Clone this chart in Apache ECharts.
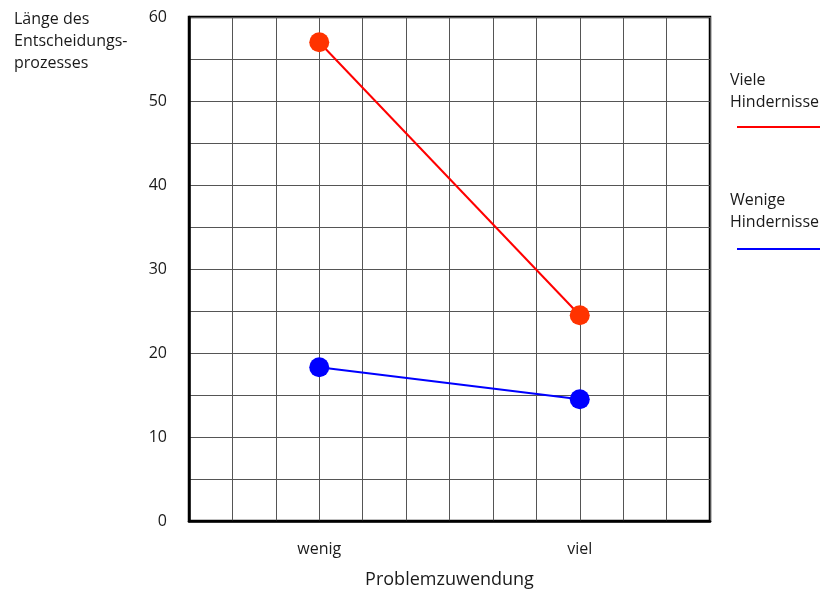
<!DOCTYPE html>
<html>
<head>
<meta charset="utf-8">
<script src="https://cdn.jsdelivr.net/npm/echarts@6/dist/echarts.min.js"></script>
<style>
  html, body { margin: 0; padding: 0; background: #fff; }
  #chart { width: 820px; height: 591px; }
</style>
</head>
<body>
<div id="chart"></div>
<script>
// Problem-attention levels and their positions on the 12-column grid
const categories = ['wenig', 'viel'];
const categoryPos = [3, 9];

// Length of the decision process per condition
const vieleHindernisse = [57, 24.5];
const wenigeHindernisse = [18.3, 14.5];

const yTicks = [0, 10, 20, 30, 40, 50, 60];

const FONT = '"Open Sans", "Noto Sans", sans-serif';

const chart = echarts.init(document.getElementById('chart'), null, { renderer: 'canvas', width: 820, height: 591 });

function pairs(values) {
  return values.map((v, i) => [categoryPos[i], v]);
}

chart.setOption({
  backgroundColor: '#fff',
  animation: false,
  grid: {
    left: 189, top: 17, width: 521, height: 504,
    outerBoundsMode: 'none', containLabel: false,
    show: true, borderColor: '#000', borderWidth: 2.5, backgroundColor: 'transparent'
  },
  xAxis: {
    type: 'value', min: 0, max: 12, interval: 1,
    name: 'Problemzuwendung', nameLocation: 'middle', nameGap: 50,
    nameTextStyle: { fontFamily: FONT, fontSize: 18, color: '#1a1a1a' },
    axisLine: { show: true, lineStyle: { color: '#000', width: 2.5 } },
    axisTick: { show: false },
    axisLabel: {
      margin: 20, fontFamily: FONT, fontSize: 16, color: '#1a1a1a',
      formatter: v => { const i = categoryPos.indexOf(v); return i >= 0 ? categories[i] : ''; }
    },
    splitLine: { show: true, lineStyle: { color: '#555', width: 1 } }
  },
  yAxis: {
    type: 'value', min: 0, max: 60, interval: 5,
    axisLine: { show: true, lineStyle: { color: '#000', width: 2.5 } },
    axisTick: { show: false },
    axisLabel: {
      margin: 22, fontFamily: FONT, fontSize: 16, color: '#1a1a1a',
      formatter: v => yTicks.includes(v) ? String(v) : ''
    },
    splitLine: { show: true, lineStyle: { color: '#555', width: 1 } }
  },
  series: [
    {
      name: 'Viele Hindernisse', type: 'line', data: pairs(vieleHindernisse),
      symbol: 'circle', symbolSize: 20,
      itemStyle: { color: '#FF3300' },
      lineStyle: { color: '#FF0000', width: 2 }, z: 5
    },
    {
      name: 'Wenige Hindernisse', type: 'line', data: pairs(wenigeHindernisse),
      symbol: 'circle', symbolSize: 20,
      itemStyle: { color: '#0000FF' },
      lineStyle: { color: '#0000FF', width: 2 }, z: 5
    }
  ],
  graphic: [
    {
      type: 'text', left: 14, top: 8,
      style: { text: 'Länge des\nEntscheidungs-\nprozesses', font: '16px ' + FONT, fill: '#1a1a1a', lineHeight: 22 }
    },
    {
      type: 'text', left: 730, top: 69,
      style: { text: 'Viele\nHindernisse', font: '16px ' + FONT, fill: '#1a1a1a', lineHeight: 22 }
    },
    {
      type: 'line', shape: { x1: 737, y1: 127, x2: 820, y2: 127 },
      style: { stroke: '#FF0000', lineWidth: 2 }
    },
    {
      type: 'text', left: 730, top: 189,
      style: { text: 'Wenige\nHindernisse', font: '16px ' + FONT, fill: '#1a1a1a', lineHeight: 22 }
    },
    {
      type: 'line', shape: { x1: 737, y1: 249, x2: 820, y2: 249 },
      style: { stroke: '#0000FF', lineWidth: 2 }
    }
  ]
});
</script>
</body>
</html>
